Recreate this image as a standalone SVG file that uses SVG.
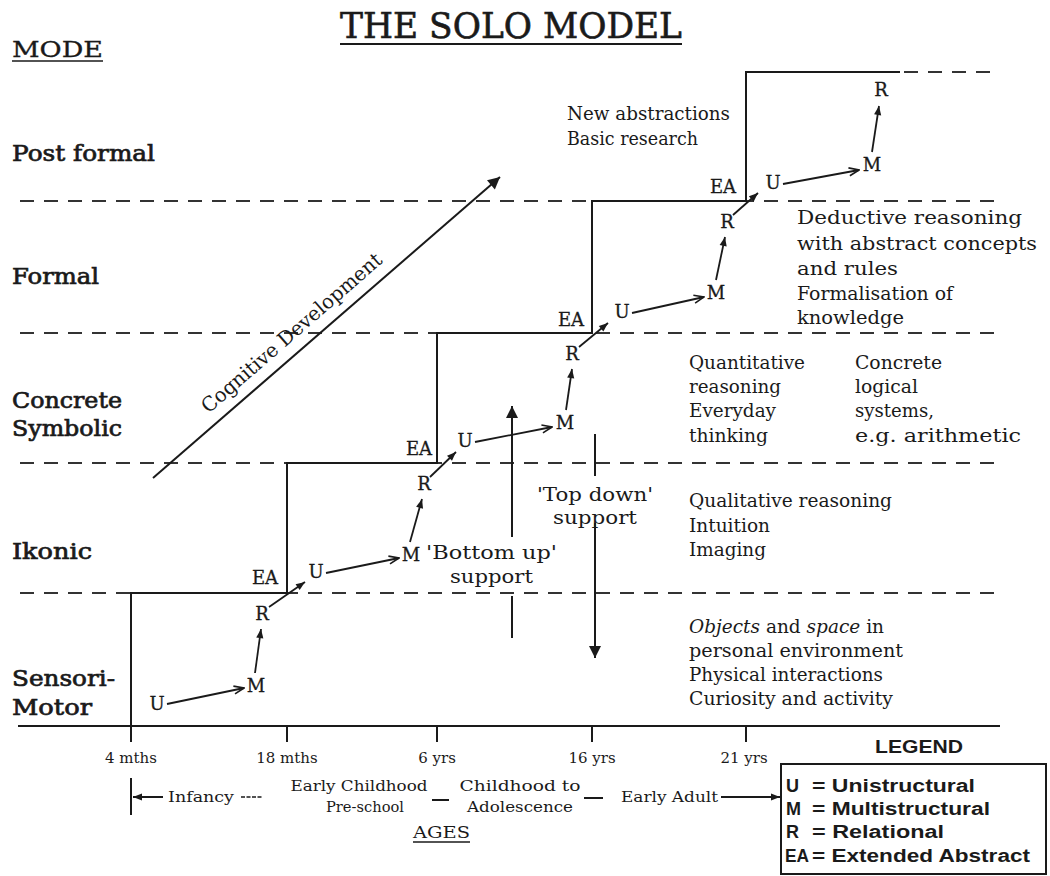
<svg xmlns="http://www.w3.org/2000/svg" width="1050" height="876" viewBox="0 0 1050 876">
<defs>
<style>
.t{font-family:"DejaVu Serif","Liberation Serif",serif;font-size:19px;fill:#1a1a1a}
.mode{font-family:"DejaVu Serif","Liberation Serif",serif;font-size:22px;fill:#1a1a1a;stroke:#1a1a1a;stroke-width:0.7}
.lt{font-family:"DejaVu Serif","Liberation Serif",serif;font-size:18px;fill:#1a1a1a;text-anchor:middle;stroke:#1a1a1a;stroke-width:0.3}
.sm{font-family:"DejaVu Serif","Liberation Serif",serif;font-size:15px;fill:#1a1a1a}
.lg{font-family:"Liberation Sans",Arial,sans-serif;font-size:18px;font-weight:bold;fill:#1a1a1a}
.dash{stroke:#333;stroke-width:2;stroke-dasharray:14 10;fill:none}
.sol{stroke:#1a1a1a;stroke-width:2;fill:none}
.arr{stroke:#1a1a1a;stroke-width:1.8;fill:none}
</style>
<marker id="tri" viewBox="0 0 10 10" refX="10" refY="5" markerWidth="11" markerHeight="9" markerUnits="userSpaceOnUse" orient="auto"><path d="M0,1 L10,5 L0,9 z" fill="#1a1a1a"/></marker>
<marker id="chev" viewBox="0 0 10 10" refX="10" refY="5" markerWidth="12" markerHeight="10" markerUnits="userSpaceOnUse" orient="auto"><path d="M0,1 L10,5 L0,9" fill="none" stroke="#1a1a1a" stroke-width="1.6"/></marker>
<marker id="big" viewBox="0 0 10 10" refX="10" refY="5" markerWidth="17" markerHeight="12" markerUnits="userSpaceOnUse" orient="auto"><path d="M0,0 L10,5 L0,10 z" fill="#1a1a1a"/></marker>
</defs>
<rect width="1050" height="876" fill="#fff"/>

<g id="title">
<text x="340" y="38" style="font-family:'DejaVu Serif','Liberation Serif',serif;font-size:35px;fill:#1a1a1a;stroke:#1a1a1a;stroke-width:0.6" textLength="342" lengthAdjust="spacingAndGlyphs">THE SOLO MODEL</text>
<line x1="340" y1="44" x2="682" y2="44" class="sol"/>
</g>

<g id="grid">
<line x1="20" y1="201" x2="995" y2="201" class="dash"/>
<line x1="20" y1="333" x2="995" y2="333" class="dash"/>
<line x1="20" y1="463" x2="995" y2="463" class="dash"/>
<line x1="20" y1="593" x2="995" y2="593" class="dash"/>
<line x1="904" y1="72" x2="995" y2="72" class="dash"/>
<line x1="18" y1="726" x2="1000" y2="726" class="sol"/>
<path d="M131,726 V593 H287 V463 H437 V333 H592 V201 H746 V72 H900" class="sol"/>
<line x1="131" y1="726" x2="131" y2="742" class="sol"/>
<line x1="287" y1="726" x2="287" y2="742" class="sol"/>
<line x1="437" y1="726" x2="437" y2="742" class="sol"/>
<line x1="592" y1="726" x2="592" y2="742" class="sol"/>
<line x1="746" y1="726" x2="746" y2="742" class="sol"/>
</g>

<g id="modes">
<text x="12" y="57" class="mode" style="stroke-width:0.3" textLength="91" lengthAdjust="spacingAndGlyphs">MODE</text>
<line x1="12" y1="61" x2="103" y2="61" stroke="#1a1a1a" stroke-width="1.5"/>
<text x="12" y="161" class="mode" textLength="143" lengthAdjust="spacingAndGlyphs">Post formal</text>
<text x="12" y="284" class="mode" textLength="87" lengthAdjust="spacingAndGlyphs">Formal</text>
<text x="12" y="408" class="mode" textLength="110" lengthAdjust="spacingAndGlyphs">Concrete</text>
<text x="12" y="436" class="mode" textLength="110" lengthAdjust="spacingAndGlyphs">Symbolic</text>
<text x="12" y="559" class="mode" textLength="80" lengthAdjust="spacingAndGlyphs">Ikonic</text>
<text x="12" y="686" class="mode" textLength="103" lengthAdjust="spacingAndGlyphs">Sensori-</text>
<text x="12" y="715" class="mode" textLength="80" lengthAdjust="spacingAndGlyphs">Motor</text>
</g>

<g id="levels-sensorimotor">
<text x="157" y="710" class="lt">U</text>
<text x="256" y="692" class="lt">M</text>
<text x="262" y="620" class="lt">R</text>
<text x="265" y="584" class="lt">EA</text>
</g>
<g id="levels-ikonic">
<text x="316" y="578" class="lt">U</text>
<text x="411" y="561" class="lt">M</text>
<text x="424" y="490" class="lt">R</text>
<text x="419" y="455" class="lt">EA</text>
</g>
<g id="levels-concrete">
<text x="465" y="447" class="lt">U</text>
<text x="565" y="429" class="lt">M</text>
<text x="572" y="360" class="lt">R</text>
<text x="571" y="326" class="lt">EA</text>
</g>
<g id="levels-formal">
<text x="622" y="318" class="lt">U</text>
<text x="716" y="299" class="lt">M</text>
<text x="727" y="228" class="lt">R</text>
<text x="723" y="193" class="lt">EA</text>
</g>
<g id="levels-postformal">
<text x="773" y="189" class="lt">U</text>
<text x="872" y="171" class="lt">M</text>
<text x="881" y="96" class="lt">R</text>
</g>

<g id="connectors">
<line x1="167" y1="704" x2="244" y2="688" class="arr" marker-end="url(#chev)"/>
<line x1="255" y1="673" x2="261" y2="629" class="arr" marker-end="url(#tri)"/>
<line x1="269" y1="607" x2="305" y2="582" class="arr" marker-end="url(#tri)"/>
<line x1="326" y1="573" x2="399" y2="558" class="arr" marker-end="url(#chev)"/>
<line x1="410" y1="542" x2="422" y2="499" class="arr" marker-end="url(#tri)"/>
<line x1="430" y1="477" x2="456" y2="452" class="arr" marker-end="url(#tri)"/>
<line x1="475" y1="442" x2="552" y2="427" class="arr" marker-end="url(#chev)"/>
<line x1="566" y1="410" x2="572" y2="369" class="arr" marker-end="url(#tri)"/>
<line x1="579" y1="347" x2="608" y2="323" class="arr" marker-end="url(#tri)"/>
<line x1="632" y1="313" x2="704" y2="297" class="arr" marker-end="url(#chev)"/>
<line x1="716" y1="280" x2="725" y2="237" class="arr" marker-end="url(#tri)"/>
<line x1="733" y1="215" x2="758" y2="193" class="arr" marker-end="url(#tri)"/>
<line x1="783" y1="184" x2="859" y2="170" class="arr" marker-end="url(#chev)"/>
<line x1="872" y1="152" x2="879" y2="106" class="arr" marker-end="url(#tri)"/>
<line x1="153" y1="478" x2="500" y2="177" class="sol" marker-end="url(#big)"/>
<line x1="512" y1="537" x2="512" y2="406" class="sol" marker-end="url(#big)"/>
<line x1="512" y1="596" x2="512" y2="638" class="sol"/>
<line x1="595" y1="434" x2="595" y2="476" class="sol"/>
<line x1="595" y1="523" x2="595" y2="658" class="sol" marker-end="url(#big)"/>
</g>

<g id="cognitive-label">
<text transform="translate(296,338) rotate(-41)" class="t" style="font-size:20px;text-anchor:middle" textLength="232" lengthAdjust="spacingAndGlyphs">Cognitive Development</text>
</g>

<g id="support-labels">
<text x="537" y="501" class="t" textLength="116" lengthAdjust="spacingAndGlyphs">'Top down'</text>
<text x="553" y="524" class="t" textLength="84" lengthAdjust="spacingAndGlyphs">support</text>
<text x="426" y="559" class="t" textLength="131" lengthAdjust="spacingAndGlyphs">'Bottom up'</text>
<text x="450" y="583" class="t" textLength="83" lengthAdjust="spacingAndGlyphs">support</text>
</g>

<g id="desc-postformal">
<text x="567" y="120" class="t" textLength="163" lengthAdjust="spacingAndGlyphs">New abstractions</text>
<text x="567" y="145" class="t" textLength="131" lengthAdjust="spacingAndGlyphs">Basic research</text>
</g>
<g id="desc-formal">
<text x="797" y="224" class="t" textLength="225" lengthAdjust="spacingAndGlyphs">Deductive reasoning</text>
<text x="797" y="250" class="t" textLength="240" lengthAdjust="spacingAndGlyphs">with abstract concepts</text>
<text x="797" y="275" class="t" textLength="101" lengthAdjust="spacingAndGlyphs">and rules</text>
<text x="797" y="300" class="t" textLength="156" lengthAdjust="spacingAndGlyphs">Formalisation of</text>
<text x="797" y="324" class="t" textLength="107" lengthAdjust="spacingAndGlyphs">knowledge</text>
</g>
<g id="desc-concrete">
<text x="689" y="369" class="t" textLength="116" lengthAdjust="spacingAndGlyphs">Quantitative</text>
<text x="689" y="393" class="t" textLength="92" lengthAdjust="spacingAndGlyphs">reasoning</text>
<text x="689" y="417" class="t" textLength="87" lengthAdjust="spacingAndGlyphs">Everyday</text>
<text x="689" y="442" class="t" textLength="79" lengthAdjust="spacingAndGlyphs">thinking</text>
<text x="855" y="369" class="t" textLength="87" lengthAdjust="spacingAndGlyphs">Concrete</text>
<text x="855" y="393" class="t" textLength="63" lengthAdjust="spacingAndGlyphs">logical</text>
<text x="855" y="417" class="t" textLength="79" lengthAdjust="spacingAndGlyphs">systems,</text>
<text x="855" y="442" class="t" textLength="166" lengthAdjust="spacingAndGlyphs">e.g. arithmetic</text>
</g>
<g id="desc-ikonic">
<text x="689" y="507" class="t" textLength="203" lengthAdjust="spacingAndGlyphs">Qualitative reasoning</text>
<text x="689" y="532" class="t" textLength="81" lengthAdjust="spacingAndGlyphs">Intuition</text>
<text x="689" y="556" class="t" textLength="77" lengthAdjust="spacingAndGlyphs">Imaging</text>
</g>
<g id="desc-sensorimotor">
<text x="689" y="633" class="t" textLength="195" lengthAdjust="spacingAndGlyphs"><tspan font-style="italic">Objects</tspan> and <tspan font-style="italic">space</tspan> in</text>
<text x="689" y="657" class="t" textLength="214" lengthAdjust="spacingAndGlyphs">personal environment</text>
<text x="689" y="681" class="t" textLength="194" lengthAdjust="spacingAndGlyphs">Physical interactions</text>
<text x="689" y="705" class="t" textLength="204" lengthAdjust="spacingAndGlyphs">Curiosity and activity</text>
</g>

<g id="ages">
<text x="131" y="763" class="sm" style="text-anchor:middle">4 mths</text>
<text x="287" y="763" class="sm" style="text-anchor:middle">18 mths</text>
<text x="437" y="763" class="sm" style="text-anchor:middle">6 yrs</text>
<text x="592" y="763" class="sm" style="text-anchor:middle">16 yrs</text>
<text x="744" y="763" class="sm" style="text-anchor:middle">21 yrs</text>
<line x1="131" y1="778" x2="131" y2="815" class="sol" stroke-width="1.5"/>
<line x1="163" y1="797" x2="133" y2="797" class="sol" stroke-width="1.5" marker-end="url(#tri)"/>
<text x="168" y="802" class="sm" textLength="66" lengthAdjust="spacingAndGlyphs">Infancy</text>
<line x1="241" y1="797" x2="263" y2="797" stroke="#1a1a1a" stroke-width="1.5" stroke-dasharray="4 1.5"/>
<text x="359" y="791" class="sm" style="text-anchor:middle" textLength="137" lengthAdjust="spacingAndGlyphs">Early Childhood</text>
<text x="365" y="812" class="sm" style="text-anchor:middle" textLength="78" lengthAdjust="spacingAndGlyphs">Pre-school</text>
<line x1="432" y1="800" x2="449" y2="800" class="sol" stroke-width="1.5"/>
<text x="520" y="791" class="sm" style="text-anchor:middle" textLength="121" lengthAdjust="spacingAndGlyphs">Childhood to</text>
<text x="520" y="812" class="sm" style="text-anchor:middle" textLength="106" lengthAdjust="spacingAndGlyphs">Adolescence</text>
<line x1="584" y1="798" x2="603" y2="798" class="sol" stroke-width="1.5"/>
<text x="621" y="802" class="sm" textLength="97" lengthAdjust="spacingAndGlyphs">Early Adult</text>
<line x1="721" y1="797" x2="780" y2="797" class="sol" stroke-width="1.5" marker-end="url(#tri)"/>
<text x="413" y="838" class="sm" style="font-size:17px" textLength="57" lengthAdjust="spacingAndGlyphs">AGES</text>
<line x1="413" y1="842" x2="470" y2="842" stroke="#1a1a1a" stroke-width="1.3"/>
</g>

<g id="legend">
<text x="875" y="753" class="lg" textLength="88" lengthAdjust="spacingAndGlyphs">LEGEND</text>
<rect x="781" y="764" width="265" height="110" fill="none" stroke="#1a1a1a" stroke-width="2"/>
<text x="786" y="792" class="lg">U</text>
<text x="812" y="792" class="lg" textLength="163" lengthAdjust="spacingAndGlyphs">= Unistructural</text>
<text x="786" y="815" class="lg">M</text>
<text x="812" y="815" class="lg" textLength="178" lengthAdjust="spacingAndGlyphs">= Multistructural</text>
<text x="786" y="838" class="lg">R</text>
<text x="812" y="838" class="lg" textLength="132" lengthAdjust="spacingAndGlyphs">= Relational</text>
<text x="785" y="862" class="lg" textLength="24" lengthAdjust="spacingAndGlyphs">EA</text>
<text x="812" y="862" class="lg" textLength="218" lengthAdjust="spacingAndGlyphs">= Extended Abstract</text>
</g>
</svg>
